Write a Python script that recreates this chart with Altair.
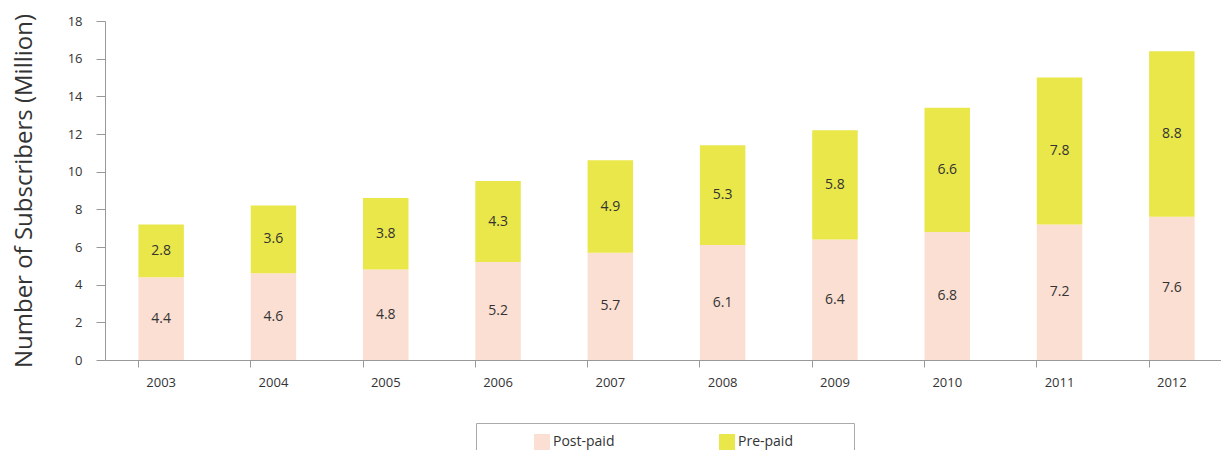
import altair as alt
import pandas as pd

years = ["2003", "2004", "2005", "2006", "2007", "2008", "2009", "2010", "2011", "2012"]
post_paid = [4.4, 4.6, 4.8, 5.2, 5.7, 6.1, 6.4, 6.8, 7.2, 7.6]
pre_paid = [2.8, 3.6, 3.8, 4.3, 4.9, 5.3, 5.8, 6.6, 7.8, 8.8]
series = ["Post-paid", "Pre-paid"]
colors = ["#FBDFD2", "#EAE74B"]
y_ticks = [0, 2, 4, 6, 8, 10, 12, 14, 16, 18]

rows = []
for i, y in enumerate(years):
    rows.append({"year": y, "type": series[0], "value": post_paid[i], "ord": 0})
    rows.append({"year": y, "type": series[1], "value": pre_paid[i], "ord": 1})
df = pd.DataFrame(rows)

FONT = "Open Sans"
TXT = "#333333"
YTITLE = "Number of Subscribers (Million)"

base = alt.Chart(df).transform_stack(
    stack="value", groupby=["year"], as_=["v0", "v1"], sort=[alt.SortField("ord", order="ascending")]
).transform_calculate(mid="(datum.v0 + datum.v1) / 2")

xscale = alt.Scale(range=[0, 1123], paddingInner=0.595, paddingOuter=0.2975)
yscale = alt.Scale(domain=[0, 18], nice=False)

xaxis = alt.Axis(
    labelAngle=0, labelFont=FONT, labelFontSize=13, labelColor=TXT, labelPadding=9,
    tickSize=7, tickColor="#999999", domainColor="#999999", bandPosition=0,
    ticks=True, grid=False,
)
yaxis = alt.Axis(
    values=y_ticks, grid=False, tickSize=9, tickColor="#999999", domainColor="#999999",
    labelFont=FONT, labelFontSize=13, labelColor=TXT, labelPadding=14, labelOverlap=False,
    titleFont=FONT, titleFontSize=24, titleFontWeight="normal", titleColor=TXT,
    titlePadding=31,
)

pad = "\u2800" * 5

bars = base.mark_bar().encode(
    x=alt.X("year:N", sort=years, title=None, scale=xscale, axis=xaxis),
    y=alt.Y("v0:Q", scale=yscale, title=YTITLE, axis=yaxis),
    y2="v1:Q",
    color=alt.Color(
        "type:N",
        scale=alt.Scale(domain=series, range=colors),
        legend=alt.Legend(
            title=None, orient="none", legendX=371, legendY=402, direction="horizontal",
            symbolType="square", symbolSize=256, symbolStrokeWidth=0,
            labelFont=FONT, labelFontSize=14, labelColor=TXT, labelOffset=3, labelLimit=400,
            strokeColor="#AAAAAA", padding=11, symbolOffset=47, columnPadding=57,
            labelExpr="datum.label == 'Pre-paid' ? datum.label + '" + pad + "' : datum.label",
        ),
    ),
)

labels = base.mark_text(font=FONT, fontSize=14, color=TXT).encode(
    x=alt.X("year:N", sort=years, title=None, scale=xscale, axis=xaxis),
    y=alt.Y("mid:Q", scale=yscale, title=YTITLE, axis=yaxis),
    text=alt.Text("value:Q", format=".1f"),
)

chart = alt.layer(bars, labels).properties(
    width=1116, height=339,
    background="white",
    autosize=alt.AutoSizeParams(type="none"),
    padding={"left": 97, "top": 13, "right": 0, "bottom": 90},
).configure_view(stroke=None)

chart.save("out.html", embed_options={"renderer": "svg", "actions": False})
